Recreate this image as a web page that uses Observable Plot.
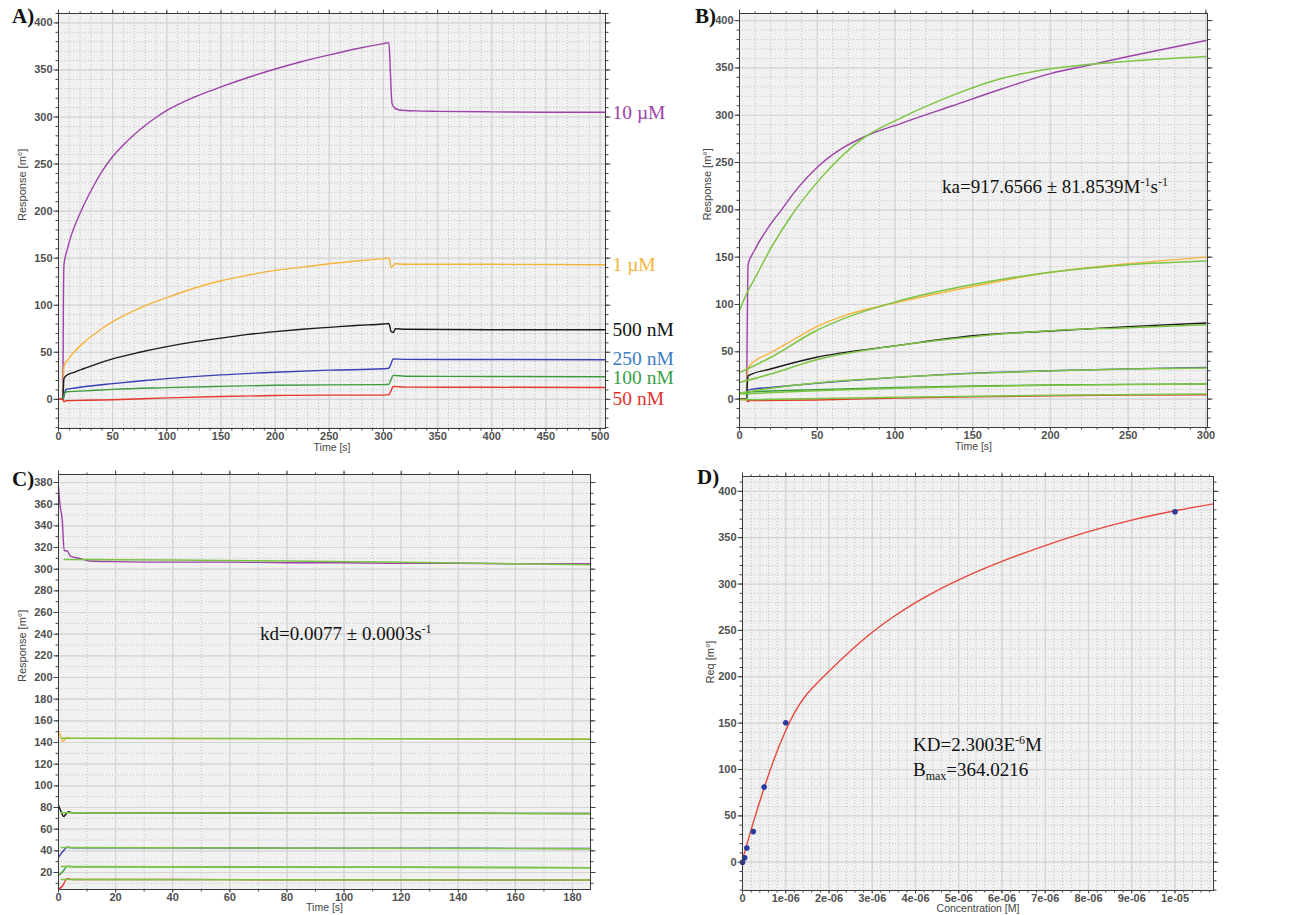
<!DOCTYPE html>
<html><head><meta charset="utf-8">
<script src="https://cdn.jsdelivr.net/npm/d3@7"></script>
<script src="https://cdn.jsdelivr.net/npm/@observablehq/plot@0.6"></script>
<style>
body{margin:0;background:#fff;}
#fig{position:relative;width:1305px;height:915px;background:#fff;overflow:hidden;}
.plab{position:absolute;font-family:"Liberation Serif","Times New Roman",serif;font-weight:bold;font-size:21px;line-height:21px;color:#111;}
.ann{position:absolute;font-family:"Liberation Serif","Times New Roman",serif;font-size:19px;line-height:19px;color:#111;white-space:nowrap;}
.sup{font-size:12px;position:relative;top:-7px;}
.sub{font-size:12px;position:relative;top:4px;}
</style></head>
<body><div id="fig"></div>
<script>
// ---------- Panel A : full sensorgrams (time s, response m°) ----------
const a10uM = [[0,0],[4,0],[4.5,100],[5,142],[6,150],[8,159],[12,175],[17,190],[22,203],[27,215],[33,228],[39,240],[50,258],[60,270.5],[70,281.5],[80,291],[90,299.5],[100,307],[125,321],[150,332],[175,342],[200,351],[225,359],[250,366],[275,372.5],[300,378],[305,379],[306,360],[307,330],[308,314],[310,310],[315,307.5],[330,306.5],[350,306],[400,305.5],[450,305],[505,305]];
const a1uM = [[0,0],[4,0],[4.5,20],[5,34],[6,38],[8,41],[15,51],[23,60],[35,71],[50,82.5],[75,97],[100,108],[125,118],[150,126],[175,132],[200,137],[225,140.5],[250,144],[275,147],[300,149.5],[305,150],[306,147],[307,140],[309,142],[311,144],[320,143.5],[400,143.5],[505,143]];
const a500nM = [[0,0],[4,0],[4.5,12],[5,22],[7,25],[15,29],[23,32.5],[35,37.5],[50,43],[75,50],[100,56],[125,61],[150,65],[175,69],[200,72],[225,74.5],[250,76.5],[275,78.5],[300,80],[305,80.5],[306,77],[307,72],[309,71],[311,75],[320,74.5],[400,74],[505,74]];
const a250nM = [[0,0],[4,0],[5,3],[6,8],[7,10.5],[15,12],[23,13.3],[50,16.7],[75,19.5],[100,22],[150,26],[200,28.8],[250,31],[300,32.5],[305,33],[307,38],[309,43],[320,42.5],[400,42.3],[505,42]];
const a100nM = [[0,0],[4,0],[5,3],[6,7.5],[8,8],[25,9],[50,10.6],[100,12.4],[150,13.8],[200,14.9],[250,15.4],[300,15.6],[305,16],[307,21],[309,25.5],[320,24.5],[400,24.3],[505,24]];
const a50nM = [[0,0],[4,0],[5,-2.5],[7,-1.5],[25,-1],[50,-0.4],[100,1.5],[150,3],[200,4],[250,4.5],[300,4.5],[305,5],[307,9],[309,13.8],[320,13],[400,12.8],[505,12.5]];
const concNames = ["10 µM","1 µM","500 nM","250 nM","100 nM","50 nM"];

// ---------- Panel B : association phase with fits ----------
const b10uM = [[0,0],[4.5,0],[5,80],[5.5,142],[9.6,157],[20,185],[27,200],[35,218],[52,248],[67,266],[80,277],[105,292],[137,310],[169,328],[200,344],[225,353],[250,362],[300,379]];
const b1uM = [[0,0],[4.5,0],[5,20],[5.5,33],[9.6,40],[20,49],[35,63],[49,76],[67,88],[101,102],[150,119],[200,134],[250,143],[300,150]];
const b500nM = [[0,0],[4.5,0],[5,15],[5.5,24.5],[20,31.8],[49,44],[101,56.5],[150,67],[200,72],[250,76.6],[300,80.5]];
const b250nM = [[0,0],[4.5,0],[5,4],[5.5,9.5],[8,10.5],[20,12.3],[49,16.6],[101,23],[150,27.5],[200,30],[250,32],[300,33.5]];
const b100nM = [[0,0],[4.5,0],[5,3],[6,7.5],[20,8.5],[49,10],[101,12.3],[150,13.8],[200,15],[250,15.6],[300,16]];
const b50nM = [[0,0],[4.5,0],[5,-2.5],[7,-1.5],[49,-1],[101,1],[150,2.5],[200,3.5],[250,4.2],[300,4.6]];
const bFit10uM = [[0,93.5],[5,113],[10,128],[20,159],[33,193],[52,233],[78,274],[105,298],[137,321],[169,339],[200,349],[250,357],[300,362]];
const bFit1uM = [[0,28],[20,44],[49,72],[67,85],[101,103],[150,121],[200,134],[250,142],[300,146]];
const bFit500nM = [[0,17.6],[20,26.5],[49,41.3],[101,56.5],[150,66],[200,72.3],[250,75.5],[300,78.7]];
const bFit250nM = [[0,6.5],[20,11.5],[49,17],[101,23],[150,27],[200,30],[250,31.8],[300,32.8]];
const bFit100nM = [[0,5.3],[49,8.8],[101,11.6],[150,13.4],[200,14.6],[250,15.4],[300,15.9]];
const bFit50nM = [[0,-0.7],[101,2],[200,4],[300,5.3]];

// ---------- Panel C : dissociation phase with fits ----------
const c10uM = [[0,376],[0.5,360],[1.3,346],[2,317],[3,317],[4.2,312],[7.7,309.7],[11,307.6],[20,307],[40,306.5],[60,306.5],[80,306],[100,306],[120,305.5],[140,305.5],[160,305],[186.3,305]];
const c1uM = [[0,151],[0.7,146],[1.5,141],[2.3,143],[3.2,144.7],[5,143.8],[20,143.8],[60,143.6],[100,143.6],[140,143.4],[186.3,143.2]];
const c500nM = [[0,81.7],[0.8,77],[1.8,71.8],[3.5,76.2],[5,75],[40,75],[80,74.8],[120,74.7],[186.3,74.5]];
const c250nM = [[0,34],[0.8,37],[1.8,40.3],[3,43.3],[5,42.8],[40,42.7],[80,42.5],[120,42.4],[186.3,42.2]];
const c100nM = [[0,17.2],[0.8,19],[1.8,21.8],[3,25.8],[5,25.3],[40,25.2],[80,25],[120,24.8],[186.3,24.5]];
const c50nM = [[0,5],[0.8,6],[1.5,8],[3,14.2],[5,13.6],[40,13.5],[80,13.3],[120,13.2],[186.3,13]];
const cFit10uM = [[2,309],[40,308.5],[80,307.5],[120,306.5],[160,305],[186.3,304]];
const cFit1uM = [[1,144],[186.3,143]];
const cFit500nM = [[1,75.2],[186.3,74.3]];
const cFit250nM = [[1,43],[186.3,42]];
const cFit100nM = [[1,25.5],[186.3,24.4]];
const cFit50nM = [[1,13.6],[186.3,13]];

// ---------- Panel D : steady-state affinity ----------
const dConc = [0, 5e-8, 1e-7, 2.5e-7, 5e-7, 1e-6, 1e-5];
const dReq = [0, 4.7, 15.4, 33, 81, 150.4, 378];
const dFitConc = [0, 1e-7, 2.5e-7, 5e-7, 7.3e-7, 1e-6, 1.2e-6, 1.45e-6, 1.7e-6, 2e-6, 2.5e-6, 3e-6, 3.5e-6, 4e-6, 4.5e-6, 5e-6, 5.5e-6, 6e-6, 7e-6, 8e-6, 9e-6, 1e-5, 1.089e-5];
const dFitReq = [3, 19, 43, 80, 111, 142, 161, 179, 192, 206, 228, 248, 265, 280, 293, 304.5, 315, 324.5, 341.5, 356.5, 369, 379, 386.5];
const dXTickLabels = ["0","1e-06","2e-06","3e-06","4e-06","5e-06","6e-06","7e-06","8e-06","9e-06","1e-05"];

// ---------- styling ----------
const colors = ["#9c42a8", "#f5b43c", "#1a1a1a", "#3a40b2", "#3d9a3d", "#e5392e"];
const labelColors = ["#9c42a8", "#f5b43c", "#111111", "#3b7cc9", "#3aa04a", "#e5312b"];
const fitColor = "#7cc443";

const fig = document.getElementById("fig");
const plotStyle = {background: "none", overflow: "visible", fontFamily: "'Liberation Sans', Arial, sans-serif", fontSize: "11px", color: "#444"};

function frameMarks(o) {
  return {
    under: [
      Plot.frame({fill: "#f1f1f1", stroke: "none"}),
      Plot.gridX(o.xMinor, {stroke: "#c2c2c2", strokeOpacity: 1, strokeDasharray: "1,2"}),
      Plot.gridY(o.yMinor, {stroke: "#c2c2c2", strokeOpacity: 1, strokeDasharray: "1,2"}),
      Plot.gridX(o.xMajor, {stroke: "#d4d4d4", strokeOpacity: 1, strokeWidth: 1.2}),
      Plot.gridY(o.yMajor, {stroke: "#d4d4d4", strokeOpacity: 1, strokeWidth: 1.2})
    ],
    over: [
      Plot.frame({stroke: "#3a3a3a", strokeWidth: 1}),
      Plot.axisX(o.xMinor, {anchor: "bottom", tickSize: 2.5, fill: "none", label: null, stroke: "#444"}),
      Plot.axisX(o.xMinor, {anchor: "top", tickSize: 2.5, fill: "none", label: null, stroke: "#444"}),
      Plot.axisY(o.yMinor, {anchor: "left", tickSize: 2.5, fill: "none", label: null, stroke: "#444"}),
      Plot.axisY(o.yMinor, {anchor: "right", tickSize: 2.5, fill: "none", label: null, stroke: "#444"}),
      Plot.axisX(o.xMajor, {anchor: "top", tickSize: 4.5, fill: "none", label: null, stroke: "#444"}),
      Plot.axisY(o.yMajor, {anchor: "right", tickSize: 4.5, fill: "none", label: null, stroke: "#444"}),
      Plot.axisX(o.xMajor, {anchor: "bottom", tickSize: 3.5, tickPadding: 0, tickFormat: o.xFmt, label: null, stroke: "#444", fill: "#505050", fontWeight: "bold", fontSize: 11}),
      Plot.axisY(o.yMajor, {anchor: "left", tickSize: 4.5, tickPadding: 1.5, label: null, stroke: "#444", fill: "#505050", fontWeight: "bold", fontSize: 11}),
      Plot.text([o.xLabel], {text: d => d, frameAnchor: "bottom", dy: o.xLabelDy, fill: "#444", fontSize: 10.5}),
      Plot.text([o.yLabel], {text: d => d, frameAnchor: "left", dx: o.yLabelDx, rotate: -90, fill: "#444", fontSize: 11})
    ]
  };
}

function place(svg, left, top) {
  svg.style.position = "absolute";
  svg.style.left = left + "px";
  svg.style.top = top + "px";
  fig.appendChild(svg);
}

const line = (data, stroke, w = 1.4) => Plot.line(data, {x: d => d[0], y: d => d[1], stroke, strokeWidth: w, curve: "monotone-x"});
const range = (a, b, s) => d3.range(a, b + s / 2, s);

// ----- Panel A -----
{
  const series = [a10uM, a1uM, a500nM, a250nM, a100nM, a50nM];
  const labelDy = [0, 0, 0, -1.5, 1.5, 11];
  const f = frameMarks({
    xMajor: range(0, 500, 50), xMinor: range(0, 500, 10),
    yMajor: range(0, 400, 50), yMinor: range(-30, 410, 10),
    xLabel: "Time [s]", xLabelDy: 22, yLabel: "Response [m°]", yLabelDx: -36
  });
  const svg = Plot.plot({
    width: 700, height: 455, marginLeft: 58, marginRight: 95, marginTop: 13, marginBottom: 27,
    x: {domain: [0, 505]}, y: {domain: [-31, 410]}, style: plotStyle,
    marks: [
      ...f.under,
      ...series.map((s, i) => line(s, colors[i])),
      ...series.map((s, i) => Plot.text([s[s.length - 1]], {x: d => d[0], y: d => d[1], text: () => concNames[i], dx: 7, dy: labelDy[i], textAnchor: "start", fill: labelColors[i], fontFamily: "'Liberation Serif', 'Times New Roman', serif", fontSize: 19.5})),
      ...f.over
    ]
  });
  place(svg, 0, 0);
}

// ----- Panel B -----
{
  const series = [b10uM, b1uM, b500nM, b250nM, b100nM, b50nM];
  const fits = [bFit10uM, bFit1uM, bFit500nM, bFit250nM, bFit100nM, bFit50nM];
  const f = frameMarks({
    xMajor: range(0, 300, 50), xMinor: range(0, 300, 10),
    yMajor: range(0, 400, 50), yMinor: range(-30, 400, 10),
    xLabel: "Time [s]", xLabelDy: 22, yLabel: "Response [m°]", yLabelDx: -32
  });
  const svg = Plot.plot({
    width: 605, height: 455, marginLeft: 39, marginRight: 98, marginTop: 13, marginBottom: 28,
    x: {domain: [0, 301]}, y: {domain: [-30, 407.5]}, style: plotStyle,
    marks: [
      ...f.under,
      ...series.map((s, i) => line(s, colors[i])),
      ...fits.map(s => line(s, fitColor, 1.5)),
      ...f.over
    ]
  });
  place(svg, 700, 0);
}

// ----- Panel C -----
{
  const series = [c10uM, c1uM, c500nM, c250nM, c100nM, c50nM];
  const fits = [cFit10uM, cFit1uM, cFit500nM, cFit250nM, cFit100nM, cFit50nM];
  const f = frameMarks({
    xMajor: range(0, 180, 20), xMinor: range(0, 180, 10),
    yMajor: range(20, 380, 20), yMinor: range(10, 380, 10),
    xLabel: "Time [s]", xLabelDy: 21.5, yLabel: "Response [m°]", yLabelDx: -36
  });
  const svg = Plot.plot({
    width: 700, height: 455, marginLeft: 58, marginRight: 110, marginTop: 14, marginBottom: 26,
    x: {domain: [0, 186.3]}, y: {domain: [4.3, 387.4]}, style: plotStyle,
    marks: [
      ...f.under,
      ...series.map((s, i) => line(s, colors[i])),
      ...fits.map(s => line(s, fitColor, 1.5)),
      ...f.over
    ]
  });
  place(svg, 0, 460);
}

// ----- Panel D -----
{
  const pts = dConc.map((c, i) => ({c, r: dReq[i]}));
  const fit = dFitConc.map((c, i) => ({c, r: dFitReq[i]}));
  const xMajor = range(0, 1e-5, 1e-6);
  const f = frameMarks({
    xMajor, xMinor: range(0, 1.08e-5, 2e-7), xFmt: (d, i) => dXTickLabels[i],
    yMajor: range(0, 400, 50), yMinor: range(-30, 410, 10),
    xLabel: "Concentration [M]", xLabelDy: 21.5, yLabel: "Req [m°]", yLabelDx: -32
  });
  const svg = Plot.plot({
    width: 605, height: 455, marginLeft: 42, marginRight: 92, marginTop: 16, marginBottom: 25,
    x: {domain: [0, 1.089e-5]}, y: {domain: [-30.5, 416]}, style: plotStyle,
    marks: [
      ...f.under,
      Plot.line(fit, {x: "c", y: "r", stroke: "#e8473c", strokeWidth: 1.4, curve: "monotone-x"}),
      Plot.dot(pts, {x: "c", y: "r", r: 2.8, fill: "#2b3c9c", stroke: "none"}),
      ...f.over
    ]
  });
  place(svg, 700, 460);
}

// ----- panel letters and annotations -----
function html(cls, left, top, content) {
  const d = document.createElement("div");
  d.className = cls;
  d.style.left = left + "px";
  d.style.top = top + "px";
  d.innerHTML = content;
  fig.appendChild(d);
}
html("plab", 12, 6, "A)");
html("plab", 695, 6, "B)");
html("plab", 12, 469, "C)");
html("plab", 697, 467, "D)");
html("ann", 942, 177, 'ka=917.6566 ± 81.8539M<span class="sup">-1</span>s<span class="sup">-1</span>');
html("ann", 260, 624, 'kd=0.0077 ± 0.0003s<span class="sup">-1</span>');
html("ann", 913, 735, 'KD=2.3003E<span class="sup">-6</span>M');
html("ann", 913, 760, 'B<span class="sub">max</span>=364.0216');
</script>
</body></html>
